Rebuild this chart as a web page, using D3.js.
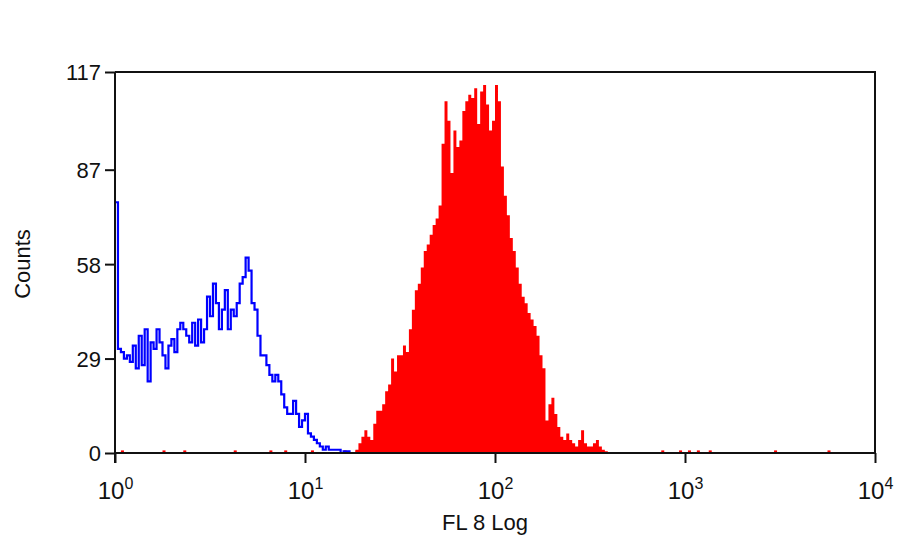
<!DOCTYPE html>
<html><head><meta charset="utf-8">
<script src="https://cdn.jsdelivr.net/npm/d3@7/dist/d3.min.js"></script>
<style>body{margin:0;background:#fff}text{font-family:"Liberation Sans",Arial,sans-serif}</style>
</head><body><svg id="c" width="900" height="552"></svg>
<script>
const channels = 256;
const yTicks = [0, 29, 58, 87, 117];
const xTicks = [1, 10, 100, 1000, 10000];
const xExponents = ["0", "1", "2", "3", "4"];
const blueStart = 0;
const blueCounts = [77,32,31,29,30,28,33,26,36,27,38,22,34,32,38,34,30,26,33,35,31,38,40,38,36,34,40,33,41,34,38,48,42,52,46,38,44,50,38,44,42,46,52,54,60,56,46,44,36,30,30,27,24,22,24,22,18,14,12,12,16,12,8,10,12,6,5,4,3,2,1,2,1,1,1,1,0,0.5,0.5,0,0];
const redStart = 80;
const redCounts = [0,1,3,5,7,5,4,9,13,13,15,19,21,29,25,30,30,33,31,38,44,50,52,57,62,64,67,70,72,76,95,108,102,86,99,94,96,105,108,110,109,112,101,111,113,107,99,102,113,108,88,79,73,66,62,57,52,48,46,43,41,39,36,30,26,10,15,17,12,8,5,4,6,4,3,2,4,7,3,2,2,3,4,2,1,0.5,0];
const redDots = [2,16,23,40,52,57,66,77,81,88,93,100,104,184,190,193,196,200,222,240];

const svg = d3.select("#c");
const L=115,R=875,T=72,B=453;
const x = d3.scaleLog().domain([1,10000]).range([L,R]);
const ch = d3.scaleLinear().domain([0,channels]).range([L,R]);
const y = d3.scaleLinear().domain([0,117]).range([B,T]);

const redPts = redCounts.map((v,i)=>({c:redStart+i,v}));
svg.append("path").datum(redPts)
  .attr("d", d3.area().curve(d3.curveStepAfter).x(d=>ch(d.c)).y0(B).y1(d=>y(d.v)))
  .attr("fill","#ff0000");
svg.selectAll(".rd").data(redDots).enter().append("rect")
  .attr("x",d=>ch(d)).attr("y",y(0.8)).attr("width",3).attr("height",B-y(0.8)).attr("fill","#ff0000");

const bluePts = blueCounts.map((v,i)=>({c:blueStart+i,v}));
svg.append("path").datum(bluePts)
  .attr("d", d3.line().curve(d3.curveStepAfter).x(d=>ch(d.c)).y(d=>y(d.v)))
  .attr("fill","none").attr("stroke","#0000ff").attr("stroke-width",2.2);

svg.append("path").attr("d",`M${L},${T}H${R}V${B}`).attr("fill","none").attr("stroke","#111").attr("stroke-width",2);

const ya = svg.append("g").attr("transform",`translate(${L},0)`)
  .call(d3.axisLeft(y).tickValues(yTicks).tickSize(10).tickPadding(4));
ya.attr("font-size",null).attr("font-family",null);
ya.select(".domain").attr("stroke","#111").attr("stroke-width",2).attr("d",`M0,${T}V${B+10}`);
ya.selectAll(".tick line").attr("stroke","#111").attr("stroke-width",2);
ya.selectAll(".tick text").style("font-size","22px").attr("fill","#111").attr("dy","0.36em");

const xa = svg.append("g").attr("transform",`translate(0,${B})`)
  .call(d3.axisBottom(x).tickValues(xTicks).tickSize(10).tickFormat(()=>""));
xa.attr("font-size",null).attr("font-family",null);
xa.select(".domain").attr("stroke","#111").attr("stroke-width",2).attr("d",`M${L},0H${R}`);
xa.selectAll(".tick line").attr("stroke","#111").attr("stroke-width",2);
xa.selectAll(".tick text").each(function(d,i){
  const t=d3.select(this).attr("y",46).attr("dy",null).style("font-size","24px").attr("fill","#111");
  t.append("tspan").text("10");
  t.append("tspan").text(xExponents[i]).style("font-size","16px").attr("dy",-10);
});

svg.append("text").attr("x",(L+R)/2-10).attr("y",530).attr("text-anchor","middle").style("font-size","22px").attr("fill","#111").text("FL 8 Log");
svg.append("text").attr("transform","translate(30,264) rotate(-90)").attr("text-anchor","middle").style("font-size","22px").attr("fill","#111").text("Counts");
</script></body></html>
